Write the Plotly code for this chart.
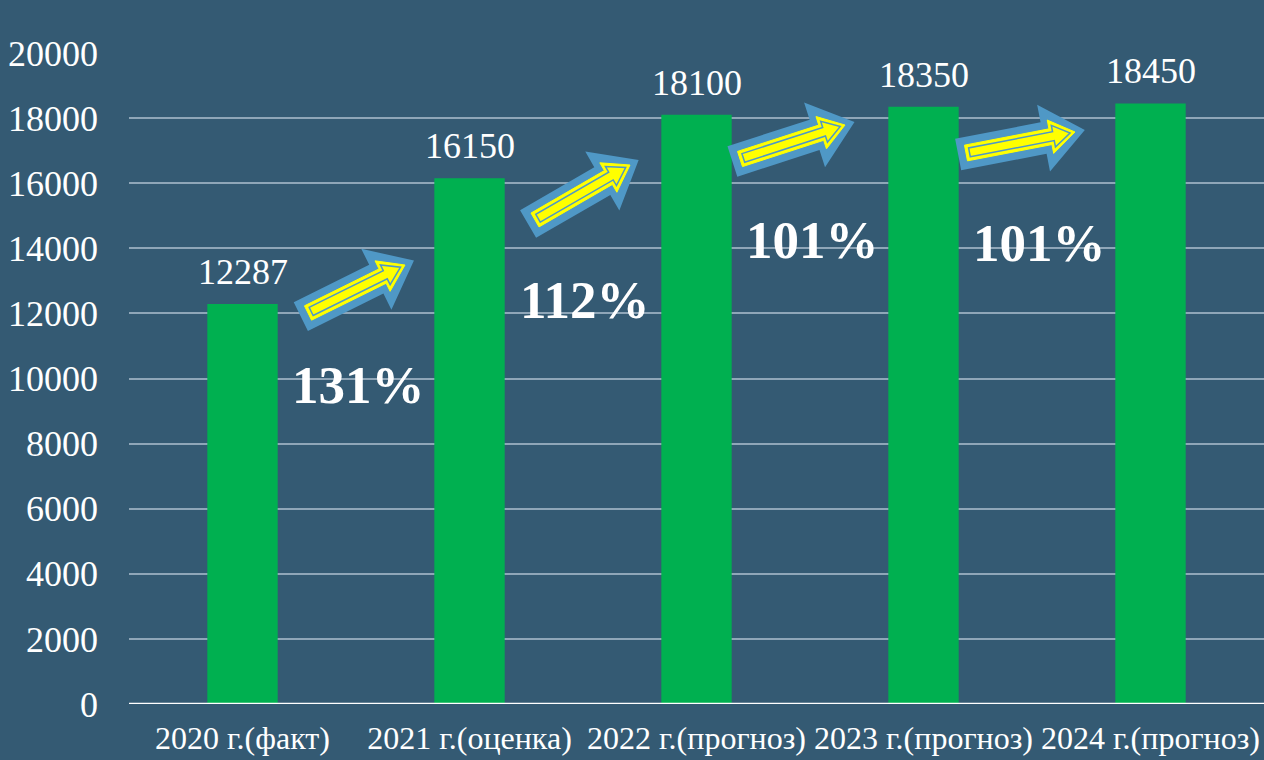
import plotly.graph_objects as go
import math

categories = ["2020 г.(факт)", "2021 г.(оценка)", "2022 г.(прогноз)", "2023 г.(прогноз)", "2024 г.(прогноз)"]
values = [12287, 16150, 18100, 18350, 18450]
growth_labels = ["131%", "112%", "101%", "101%"]
growth_label_y = [9800, 12400, 14250, 14150]
y_ticks = list(range(0, 20001, 2000))

BG = "#345A73"
GREEN = "#00B050"
ARROW_BLUE = "#4F98C6"
YELLOW = "#FFFF00"
FONT = "Liberation Serif, Times New Roman, serif"

W, H = 1264, 760
L, R, T, B = 129, 0, 53, 56
PW, PH = W - L - R, H - T - B

def to_paper(px, py):
    return ((px - L) / PW, (H - B - py) / PH)

# arrow geometry (pixel space): yellow arrow tail-centre -> tip
arrows_px = [((308, 313), (405, 265)), ((535, 220), (630, 165)),
             ((740, 159), (845, 125)), ((966, 153), (1075, 132))]

def arrow_path(tail, tip, back, front, shaft_hw, head_hw, head_len):
    tx, ty = tail
    hx, hy = tip
    dx, dy = hx - tx, hy - ty
    ln = math.hypot(dx, dy)
    ux, uy = dx / ln, dy / ln
    nx, ny = -uy, ux
    start = -back
    end = ln + front
    base = end - head_len
    pts_local = [(start, shaft_hw), (base, shaft_hw), (base, head_hw), (end, 0),
                 (base, -head_hw), (base, -shaft_hw), (start, -shaft_hw)]
    pts = []
    for s, w in pts_local:
        px = tx + ux * s + nx * w
        py = ty + uy * s + ny * w
        pts.append(to_paper(px, py))
    return "M " + " L ".join(f"{x:.5f},{y:.5f}" for x, y in pts) + " Z"

shapes = []
for tail, tip in arrows_px:
    shapes.append(dict(type="path", xref="paper", yref="paper", layer="above",
                       path=arrow_path(tail, tip, 8, 10, 16, 34, 42),
                       fillcolor=ARROW_BLUE, line=dict(width=0)))
    shapes.append(dict(type="path", xref="paper", yref="paper", layer="above",
                       path=arrow_path(tail, tip, 0, 0, 8, 17, 25),
                       fillcolor=YELLOW, line=dict(color=YELLOW, width=1)))
    shapes.append(dict(type="path", xref="paper", yref="paper", layer="above",
                       path=arrow_path(tail, tip, -3.5, -5, 4.5, 11, 17),
                       fillcolor=YELLOW, line=dict(color=ARROW_BLUE, width=1.5)))

# baseline axis line
shapes.append(dict(type="line", xref="paper", yref="y", x0=0, x1=1, y0=0, y1=0,
                   line=dict(color="white", width=2.5), layer="above"))

fig = go.Figure()
fig.add_trace(go.Bar(
    x=categories, y=values, marker=dict(color=GREEN, line=dict(width=0)), width=0.31,
    showlegend=False, hoverinfo="x+y",
))

annotations = []
for c, v in zip(categories, values):
    annotations.append(dict(x=c, y=v, xref="x", yref="y", text=str(v), showarrow=False,
                            yanchor="bottom", yshift=10,
                            font=dict(family=FONT, size=36, color="white")))
for i, (lab, yv) in enumerate(zip(growth_labels, growth_label_y)):
    annotations.append(dict(x=i + 0.51, y=yv, xref="x", yref="y", text=f"<b>{lab}</b>",
                            showarrow=False, font=dict(family=FONT, size=53, color="white")))

fig.update_layout(
    width=W, height=H, margin=dict(l=L, r=R, t=T, b=B),
    paper_bgcolor=BG, plot_bgcolor=BG,
    font=dict(family=FONT, color="white"),
    shapes=shapes, annotations=annotations,
    xaxis=dict(showgrid=False, showline=False, ticks="", ticklabelstandoff=12,
               tickfont=dict(family=FONT, size=32, color="white")),
    yaxis=dict(range=[0, 20000], tickvals=y_ticks, ticktext=[str(t) for t in y_ticks],
               showgrid=True, gridcolor="#8FA6B8", gridwidth=1.5, zeroline=False,
               showline=False, ticks="", ticklabelstandoff=30,
               tickfont=dict(family=FONT, size=36, color="white")),
)

fig.write_html("out.html", config={"displayModeBar": False},
               post_script="document.body.style.margin='0';document.body.style.background='%s';" % BG)
